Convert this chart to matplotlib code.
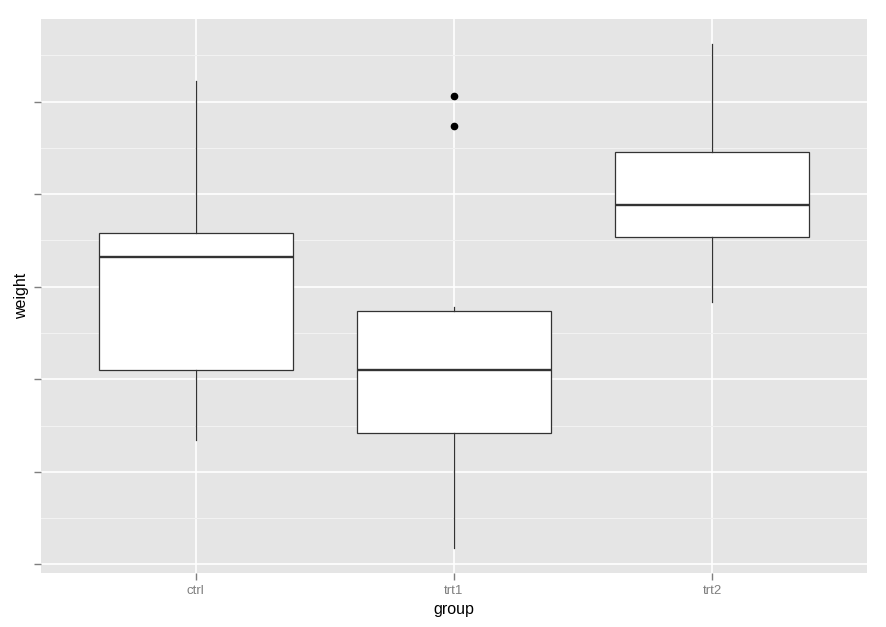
import numpy as np
import matplotlib.pyplot as plt

plt.rcParams['font.family'] = ['Liberation Sans', 'DejaVu Sans']

# box statistics, one list per group
groups = ['ctrl', 'trt1', 'trt2']
whisker_low = [4.17, 3.59, 4.92]
q1 = [4.55, 4.21, 5.27]
median = [5.16, 4.55, 5.44]
q3 = [5.29, 4.87, 5.73]
whisker_high = [6.11, 4.89, 6.31]
outliers = [[], [5.87, 6.03], []]
yticks = [3.5, 4.0, 4.5, 5.0, 5.5, 6.0]

stats = []
for i, g in enumerate(groups):
    stats.append(dict(label=g, whislo=whisker_low[i], q1=q1[i], med=median[i],
                      q3=q3[i], whishi=whisker_high[i], fliers=outliers[i]))

fig = plt.figure(figsize=(8.87, 6.27), dpi=100)
ax = fig.add_axes([41/887, 1 - 573/627, 826/887, 554/627])
ax.set_facecolor('#E5E5E5')

ax.bxp(stats, positions=[1, 2, 3], widths=0.75, patch_artist=True, zorder=3,
       boxprops=dict(facecolor='white', edgecolor='#333333', linewidth=0.9),
       medianprops=dict(color='#333333', linewidth=1.7),
       whiskerprops=dict(color='#333333', linewidth=0.9),
       capprops=dict(linewidth=0),
       flierprops=dict(marker='o', markerfacecolor='black', markeredgecolor='black',
                       markersize=4.5))

ax.set_xlim(0.4, 3.6)
ax.set_ylim(3.454, 6.446)
ax.set_xticks([1, 2, 3])
ax.set_xticklabels(groups, color='#7F7F7F', fontsize=9.5)
ax.set_yticks(yticks)
ax.set_yticklabels([])
ax.set_yticks([3.75, 4.25, 4.75, 5.25, 5.75, 6.25], minor=True)
ax.tick_params(axis='both', which='major', length=5, color='#7F7F7F', width=1)
ax.tick_params(axis='y', which='minor', length=0)
ax.tick_params(axis='x', pad=4)

ax.grid(which='major', color='white', linewidth=1.2, zorder=0)
ax.grid(which='minor', axis='y', color='#F2F2F2', linewidth=0.8, zorder=0)
ax.set_axisbelow(True)
for s in ax.spines.values():
    s.set_visible(False)

ax.set_xlabel('group', fontsize=11.5, labelpad=3)
ax.set_ylabel('weight', fontsize=11.5)
ax.yaxis.set_label_coords(-12/826, 0.5)

plt.savefig('out.png', dpi=100)
